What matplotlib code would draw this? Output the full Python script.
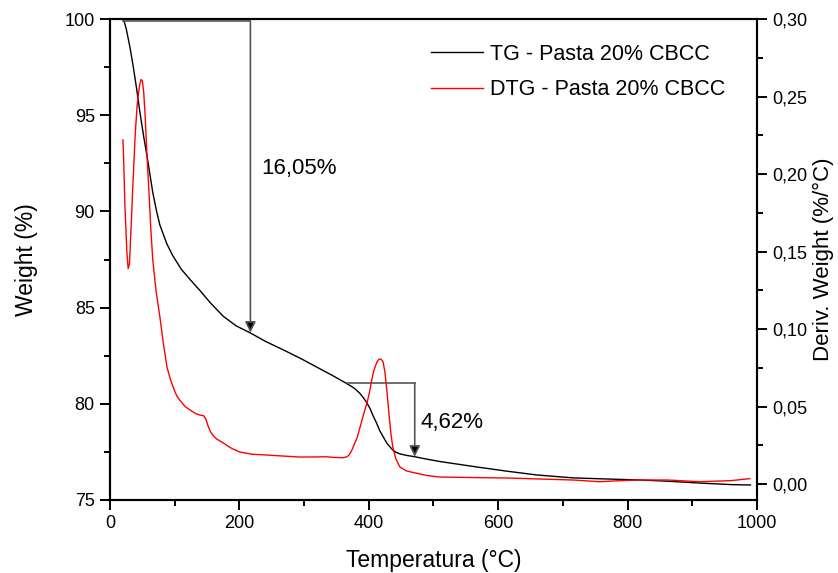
import matplotlib
matplotlib.use("Agg")
import matplotlib.pyplot as plt
from matplotlib.ticker import MultipleLocator, FuncFormatter

plt.rcParams['font.family'] = ['Liberation Sans', 'DejaVu Sans']

# TG curve (temperature °C, weight %)
tg_temp = [20, 22, 25, 28, 31, 36, 41, 46, 52, 59, 66, 72, 77, 83, 88, 97, 110, 124,
           140, 155, 175, 195, 216, 240, 268, 295, 320, 345, 366, 378, 386, 392, 397,
           402, 407, 412, 417, 422, 428, 433, 437, 442, 448, 458, 471, 490, 510, 560,
           613, 660, 716, 760, 819, 860, 912, 960, 990]
tg_weight = [100.0, 99.85, 99.5, 99.0, 98.5, 97.5, 96.4, 95.2, 93.9, 92.5, 91.0, 90.0,
             89.3, 88.75, 88.3, 87.7, 87.0, 86.45, 85.85, 85.25, 84.55, 84.05, 83.7,
             83.25, 82.8, 82.35, 81.9, 81.45, 81.05, 80.8, 80.55, 80.3, 80.05, 79.75,
             79.35, 79.0, 78.6, 78.3, 77.95, 77.75, 77.6, 77.48, 77.4, 77.32, 77.25,
             77.12, 77.0, 76.75, 76.5, 76.3, 76.15, 76.1, 76.04, 75.98, 75.88, 75.8,
             75.78]

# DTG curve (temperature °C, deriv. weight %/°C)
dtg_temp = [20, 21, 23, 26, 28, 30, 32, 35, 39, 42, 44, 46, 48, 50, 52, 54, 56, 58, 60,
            63, 66, 71, 77, 82, 88, 93, 98, 103, 108, 116, 124, 132, 139, 145, 148, 152,
            155, 160, 165, 175, 188, 201, 220, 243, 270, 294, 320, 334, 345, 360, 366,
            370, 374, 378, 382, 386, 390, 394, 397, 401, 404, 407, 410, 413, 416, 419,
            422, 425, 428, 431, 434, 437, 442, 448, 458, 468, 490, 510, 560, 613, 660,
            716, 757, 790, 819, 861, 912, 960, 989]
dtg_value = [0.222, 0.21, 0.18, 0.15, 0.139, 0.142, 0.16, 0.19, 0.226, 0.245, 0.252,
             0.258, 0.261, 0.26, 0.253, 0.24, 0.222, 0.205, 0.19, 0.165, 0.145, 0.125,
             0.108, 0.092, 0.0755, 0.068, 0.062, 0.057, 0.054, 0.050, 0.0477, 0.0455,
             0.0445, 0.044, 0.042, 0.037, 0.034, 0.031, 0.029, 0.0265, 0.023, 0.0206,
             0.0192, 0.0187, 0.018, 0.0174, 0.0175, 0.0176, 0.0172, 0.017, 0.0175, 0.019,
             0.022, 0.026, 0.030, 0.036, 0.042, 0.048, 0.052, 0.059, 0.066, 0.072, 0.076,
             0.079, 0.0806, 0.0805, 0.079, 0.072, 0.060, 0.046, 0.033, 0.024, 0.016,
             0.011, 0.0085, 0.0075, 0.0055, 0.0045, 0.0042, 0.0039, 0.0033, 0.0026,
             0.0015, 0.0022, 0.0026, 0.0026, 0.0015, 0.0022, 0.0035]

# Mass-loss annotations
ann1 = dict(t0=20, t1=217, w_top=99.9, w_bot=83.7, text="16,05%", tx=234, ty=92.25)
ann2 = dict(t0=366, t1=471, w_top=81.08, w_bot=77.25, text="4,62%", tx=480, ty=79.05)

fig = plt.figure(figsize=(8.38, 5.73), dpi=100)
ax = fig.add_axes([0.1313, 0.1274, 0.772, 0.8394])
ax2 = ax.twinx()

l1, = ax.plot(tg_temp, tg_weight, color='black', lw=1.0, label='TG - Pasta 20% CBCC')
l2, = ax2.plot(dtg_temp, dtg_value, color='red', lw=1.0, label='DTG - Pasta 20% CBCC')

for a in (ann1, ann2):
    ax.plot([a['t0'], a['t1']], [a['w_top'], a['w_top']], color='#555555', lw=1.2)
    ax.annotate('', xy=(a['t1'], a['w_bot']), xytext=(a['t1'], a['w_top']),
                arrowprops=dict(arrowstyle='-|>', color='#555555', fc='black', lw=1.2,
                                mutation_scale=16, shrinkA=0, shrinkB=0))
    ax.text(a['tx'], a['ty'], a['text'], fontsize=16, va='center', ha='left')

ax.set_xlim(0, 1000)
ax.set_ylim(75, 100)
ax2.set_ylim(-0.0103, 0.30)

ax.xaxis.set_major_locator(MultipleLocator(200))
ax.xaxis.set_minor_locator(MultipleLocator(100))
ax.yaxis.set_major_locator(MultipleLocator(5))
ax.yaxis.set_minor_locator(MultipleLocator(2.5))
ax2.yaxis.set_major_locator(MultipleLocator(0.05))
ax2.yaxis.set_minor_locator(MultipleLocator(0.025))
ax2.yaxis.set_major_formatter(FuncFormatter(lambda v, p: f"{v:.2f}".replace('.', ',')))

for a in (ax, ax2):
    a.tick_params(which='major', direction='out', length=7, width=1.4, labelsize=13,
                  pad=4)
    a.tick_params(which='minor', direction='out', length=4, width=1.4)
    for s in a.spines.values():
        s.set_linewidth(1.5)

ax.set_xlabel('Temperatura (°C)', fontsize=16.5, labelpad=12)
ax.set_ylabel('Weight (%)', fontsize=16.5, labelpad=19)
ax2.set_ylabel('Deriv. Weight (%/°C)', fontsize=16, labelpad=4)

leg = ax.legend(handles=[l1, l2], loc='upper right', frameon=False, fontsize=15.5,
                handlelength=2.4, handletextpad=0.35, borderaxespad=0.3,
                labelspacing=0.68, bbox_to_anchor=(0.975, 0.98))

fig.savefig('out.png', dpi=100)
